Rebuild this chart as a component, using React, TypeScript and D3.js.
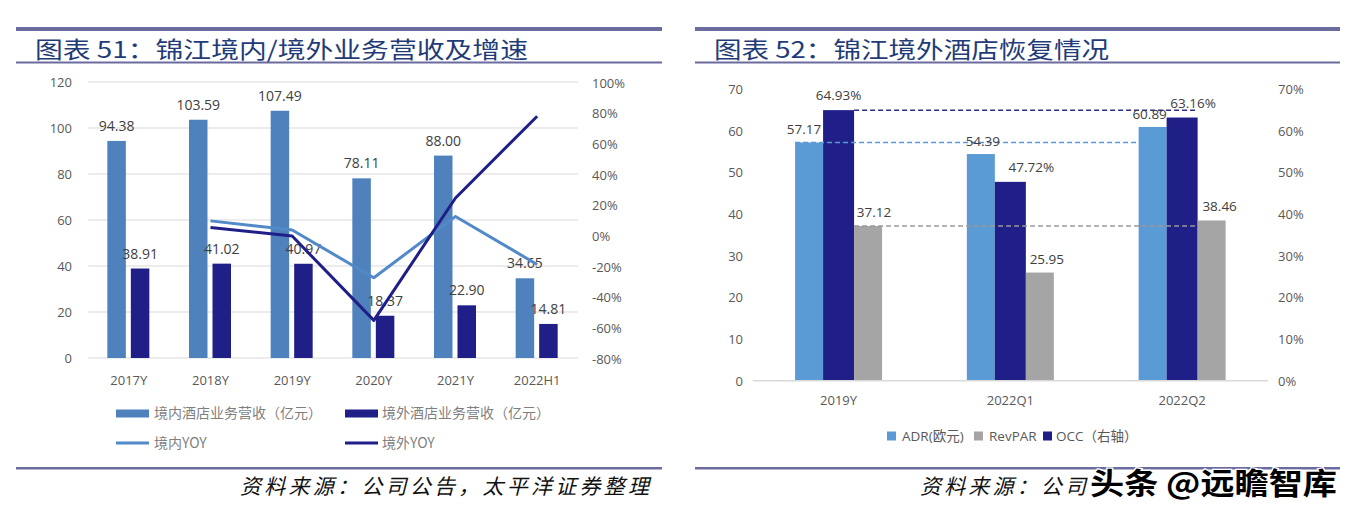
import React from "react";
import * as d3 from "d3";

// ---------- Left chart data ----------
const leftCategories = ["2017Y", "2018Y", "2019Y", "2020Y", "2021Y", "2022H1"];
const domesticRevenue = [94.38, 103.59, 107.49, 78.11, 88.0, 34.65];
const foreignRevenue = [38.91, 41.02, 40.97, 18.37, 22.9, 14.81];
const domesticYoY: (number | null)[] = [null, 9.76, 3.76, -27.33, 12.66, -18.7];
const foreignYoY: (number | null)[] = [null, 5.42, -0.12, -55.16, 24.66, 78.0];
const leftTicks = [0, 20, 40, 60, 80, 100, 120];
const rightTicks = [-80, -60, -40, -20, 0, 20, 40, 60, 80, 100];

// ---------- Right chart data ----------
const rightCategories = ["2019Y", "2022Q1", "2022Q2"];
const adr = [57.17, 54.39, 60.89];
const revpar = [37.12, 25.95, 38.46];
const occ = [64.93, 47.72, 63.16];
const right2LeftTicks = [0, 10, 20, 30, 40, 50, 60, 70];
const right2RightTicks = [0, 10, 20, 30, 40, 50, 60, 70];

const RULE = "#6B6B9E";
const TITLE = "#1F3C78";
const AXIS_TXT = "#595959";
const LABEL_TXT = "#404040";
const LEGEND_TXT = "#7F7F7F";
const SANS = "'Open Sans', 'Noto Sans CJK SC', sans-serif";
const CJK = "'Noto Sans CJK SC', sans-serif";

const C_DOM = "#4F81BD";
const C_DOM_LINE = "#5289C8";
const C_FOR = "#1F1F87";
const C_ADR = "#5B9BD5";
const C_OCC = "#1F1F87";
const C_REV = "#A5A5A5";

function Frame({ x0, x1, title, titleLen }: { x0: number; x1: number; title: string; titleLen: number }) {
  return (
    <g>
      <rect x={x0} y={27} width={x1 - x0} height={4} fill={RULE} />
      <text x={x0 + 19} y={58} fontFamily={CJK} fontSize={23} fill={TITLE} textLength={titleLen} lengthAdjust="spacingAndGlyphs">
        {title}
      </text>
      <rect x={x0} y={61.5} width={x1 - x0} height={2} fill={RULE} />
      <rect x={x0} y={467} width={x1 - x0} height={2.5} fill={RULE} />
    </g>
  );
}

function LeftChart() {
  const x = d3.scaleBand<string>().domain(leftCategories).range([88, 578]);
  const yL = d3.scaleLinear().domain([0, 120]).range([358, 82]);
  const yR = d3.scaleLinear().domain([-80, 100]).range([358.5, 82.5]);
  const bw = 18.5;
  const cx = (i: number) => (x(leftCategories[i]) as number) + x.bandwidth() / 2;
  const domLine = d3
    .line<number | null>()
    .defined((d) => d !== null)
    .x((_, i) => cx(i))
    .y((d) => yR(d as number));
  return (
    <g>
      {leftTicks.map((t) => (
        <g key={t}>
          <line x1={88} x2={578} y1={yL(t)} y2={yL(t)} stroke="#D9D9D9" strokeWidth={1} />
          <text x={72} y={yL(t) + 5} textAnchor="end" fontFamily={SANS} fontSize={13} fill={AXIS_TXT}>
            {t}
          </text>
        </g>
      ))}
      {rightTicks.map((t) => (
        <text key={t} x={592} y={yR(t) + 5} fontFamily={SANS} fontSize={13} fill={AXIS_TXT}>
          {t}%
        </text>
      ))}
      {leftCategories.map((c, i) => (
        <g key={c}>
          <rect x={cx(i) - 21.5} y={yL(domesticRevenue[i])} width={bw} height={yL(0) - yL(domesticRevenue[i])} fill={C_DOM} />
          <rect x={cx(i) + 2} y={yL(foreignRevenue[i])} width={bw} height={yL(0) - yL(foreignRevenue[i])} fill={C_FOR} />
          <text x={cx(i) - 12.25} y={yL(domesticRevenue[i]) - 10} textAnchor="middle" fontFamily={SANS} fontSize={14} fill={LABEL_TXT}>
            {domesticRevenue[i].toFixed(2)}
          </text>
          <text x={cx(i) + 11.25} y={yL(foreignRevenue[i]) - 10} textAnchor="middle" fontFamily={SANS} fontSize={14} fill={LABEL_TXT}>
            {foreignRevenue[i].toFixed(2)}
          </text>
          <text x={cx(i)} y={385} textAnchor="middle" fontFamily={SANS} fontSize={13} fill={AXIS_TXT}>
            {c}
          </text>
        </g>
      ))}
      <path d={domLine(domesticYoY) || ""} fill="none" stroke={C_DOM_LINE} strokeWidth={3} strokeLinejoin="round" />
      <path d={domLine(foreignYoY) || ""} fill="none" stroke={C_FOR} strokeWidth={3} strokeLinejoin="round" />
      {/* legend */}
      <rect x={116} y={409.5} width={33} height={8} fill={C_DOM} />
      <text x={154} y={418} fontFamily={CJK} fontSize={14} fill={LEGEND_TXT}>境内酒店业务营收（亿元）</text>
      <rect x={345} y={409.5} width={33} height={8} fill={C_FOR} />
      <text x={382} y={418} fontFamily={CJK} fontSize={14} fill={LEGEND_TXT}>境外酒店业务营收（亿元）</text>
      <line x1={116} x2={149} y1={443} y2={443} stroke={C_DOM_LINE} strokeWidth={3} />
      <text x={154} y={448} fontFamily={CJK} fontSize={14} fill={LEGEND_TXT}>境内YOY</text>
      <line x1={345} x2={378} y1={443} y2={443} stroke={C_FOR} strokeWidth={3} />
      <text x={382} y={448} fontFamily={CJK} fontSize={14} fill={LEGEND_TXT}>境外YOY</text>
    </g>
  );
}

function RightChart() {
  const x = d3.scaleBand<string>().domain(rightCategories).range([752.7, 1268]);
  const yL = d3.scaleLinear().domain([0, 70]).range([380.7, 89]);
  const yR = d3.scaleLinear().domain([0, 70]).range([380.7, 89]);
  const cx = (i: number) => (x(rightCategories[i]) as number) + x.bandwidth() / 2;
  const wA = 28, wO = 31, wR = 28;
  const adrX = (i: number) => cx(i) - 43.5;
  const occX = (i: number) => adrX(i) + wA;
  const revX = (i: number) => occX(i) + wO;
  const adrLbl = [-5, 2, -3];
  const occLbl = [0, 21, 11];
  const revLbl = [6, 7, 8];
  const last = rightCategories.length - 1;
  return (
    <g>
      {right2LeftTicks.map((t) => (
        <text key={t} x={743} y={yL(t) + 5} textAnchor="end" fontFamily={SANS} fontSize={13} fill={AXIS_TXT}>
          {t}
        </text>
      ))}
      {right2RightTicks.map((t) => (
        <text key={t} x={1278} y={yR(t) + 5} fontFamily={SANS} fontSize={13} fill={AXIS_TXT}>
          {t}%
        </text>
      ))}
      {rightCategories.map((c, i) => (
        <g key={c}>
          <rect x={adrX(i)} y={yL(adr[i])} width={wA} height={yL(0) - yL(adr[i])} fill={C_ADR} />
          <rect x={occX(i)} y={yR(occ[i])} width={wO} height={yR(0) - yR(occ[i])} fill={C_OCC} />
          <rect x={revX(i)} y={yL(revpar[i])} width={wR} height={yL(0) - yL(revpar[i])} fill={C_REV} />
          <text x={cx(i)} y={405} textAnchor="middle" fontFamily={SANS} fontSize={13} fill={AXIS_TXT}>
            {c}
          </text>
        </g>
      ))}
      <line x1={752.7} x2={1268} y1={yL(0)} y2={yL(0)} stroke="#D9D9D9" strokeWidth={1.5} />
      {/* reference dashed lines at 2019 level */}
      <line x1={occX(0) + wO} x2={occX(last) + wO} y1={yR(occ[0])} y2={yR(occ[0])} stroke="#2B2B8C" strokeWidth={1.5} strokeDasharray="5,3" />
      <line x1={adrX(0)} x2={adrX(last)} y1={yL(adr[0])} y2={yL(adr[0])} stroke={C_ADR} strokeWidth={1.5} strokeDasharray="5,3" />
      <line x1={revX(0)} x2={revX(last)} y1={yL(revpar[0])} y2={yL(revpar[0])} stroke="#999999" strokeWidth={1.5} strokeDasharray="5,3" />
      {rightCategories.map((c, i) => (
        <g key={c + "l"}>
          <text x={adrX(i) + wA / 2 + adrLbl[i]} y={yL(adr[i]) - 8} textAnchor="middle" fontFamily={SANS} fontSize={13.5} fill={LABEL_TXT}>
            {adr[i].toFixed(2)}
          </text>
          <text x={occX(i) + wO / 2 + occLbl[i]} y={yR(occ[i]) - 10} textAnchor="middle" fontFamily={SANS} fontSize={13.5} fill={LABEL_TXT}>
            {occ[i].toFixed(2)}%
          </text>
          <text x={revX(i) + wR / 2 + revLbl[i]} y={yL(revpar[i]) - 9} textAnchor="middle" fontFamily={SANS} fontSize={13.5} fill={LABEL_TXT}>
            {revpar[i].toFixed(2)}
          </text>
        </g>
      ))}
      {/* legend */}
      <rect x={887} y={431.5} width={9} height={9} fill={C_ADR} />
      <text x={902} y={441} fontFamily={SANS} fontSize={13.5} fill={AXIS_TXT}>ADR(欧元)</text>
      <rect x={974} y={431.5} width={9} height={9} fill={C_REV} />
      <text x={989} y={441} fontFamily={SANS} fontSize={13.5} fill={AXIS_TXT}>RevPAR</text>
      <rect x={1043} y={431.5} width={9} height={9} fill={C_OCC} />
      <text x={1056} y={441} fontFamily={SANS} fontSize={13.5} fill={AXIS_TXT}>OCC（右轴）</text>
    </g>
  );
}

export default function App() {
  const footer = "资料来源：公司公告，太平洋证券整理";
  const footerVisible = "资料来源：公司";
  return (
    <svg width={1352} height={514} style={{ position: "absolute", left: 0, top: 0, background: "#fff" }}>
      <rect width={1352} height={514} fill="#fff" />
      <Frame x0={16} x1={662} title="图表 51：锦江境内/境外业务营收及增速" titleLen={493} />
      <Frame x0={695} x1={1340} title="图表 52：锦江境外酒店恢复情况" titleLen={395} />
      <LeftChart />
      <RightChart />
      <text x={240} y={494} fontFamily={CJK} fontSize={21} fontStyle="italic" fill="#111" textLength={409} lengthAdjust="spacing">
        {footer}
      </text>
      <text x={920} y={494} fontFamily={CJK} fontSize={21} fontStyle="italic" fill="#111" textLength={166} lengthAdjust="spacing">
        {footerVisible}
      </text>
      <text x={1090} y={494} fontFamily={CJK} fontSize={30} fontWeight={700} fill="#000" stroke="#fff" strokeWidth={2.5} paintOrder="stroke" textLength={247} lengthAdjust="spacingAndGlyphs">
        头条 @远瞻智库
      </text>
    </svg>
  );
}
